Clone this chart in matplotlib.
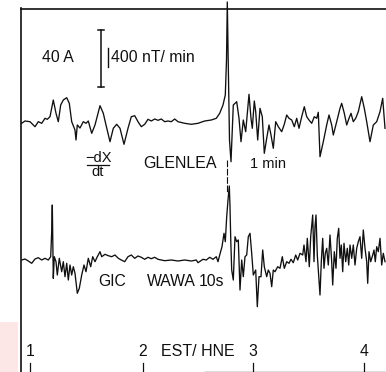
import matplotlib
matplotlib.use("Agg")
import matplotlib.pyplot as plt
import numpy as np

plt.rcParams["font.family"] = ["Liberation Sans", "DejaVu Sans"]

# 기준 그림에서 읽은 값 (x: 시간축 위치, y: 화면 세로 위치, 위가 작음)
glenlea_x = [21.7, 25, 30, 35, 38.3, 41.7, 45, 47.3, 50, 53.3, 56, 58.3, 60.7, 63.3, 66.7, 69.3,
             71.7, 75, 76, 77.3, 80, 83.3, 86, 88.3, 91.7, 95, 100, 103.3, 106, 110, 113.3, 116.7,
             120, 124, 128, 131.3, 134.7, 138, 141.3, 144.7, 148, 151.3, 154.7, 158, 161.3, 164.7,
             168, 171.3, 174.7, 178, 184.7, 191.3, 198, 204.7, 211.3, 216.3, 219.7, 223, 225.3,
             226.5, 227.3, 228.2, 229.5, 231, 233.3, 236.7, 239, 241, 243.3, 245.7, 249, 251, 252.3,
             254.3, 255.7, 257.7, 260, 262.3, 264.3, 266.7, 269, 271, 273.3, 275.7, 278.3, 281.7,
             284.3, 286.7, 289, 291.7, 294.3, 296.7, 299, 301.7, 304.3, 306.7, 309, 311.7, 314.3,
             316.7, 318.3, 320, 323.3, 326.7, 329, 331.7, 333.3, 336.7, 340, 341.7, 344.3, 346.7,
             349, 351, 353.3, 355.7, 358.3, 361.7, 364.3, 366.7, 370, 373.3, 376.7, 380, 382.7, 385]
glenlea_y = [123.3, 121, 121.7, 126.7, 121.7, 123.3, 118.3, 119.3, 116.7, 100, 113.3, 121.7, 105,
             100, 97.7, 103.3, 121.7, 130, 140, 125, 128, 121.7, 123.3, 121, 133.3, 125, 105.7,
             113.3, 125, 141.7, 128.3, 124.3, 128.3, 144.3, 128.3, 116.7, 115.7, 121.7, 126.7,
             124.3, 119.3, 121, 119, 120.3, 119, 121.7, 121, 121.7, 119, 121.7, 123.3, 124.3,
             123.3, 121, 120, 118.3, 113.3, 105, 95, 60, 2, 60, 140, 161.7, 105, 101.7, 118.3,
             141.7, 120, 131.7, 94.3, 118.3, 128.3, 101, 111.7, 140, 108.3, 116.7, 153.3, 138.3,
             125, 135, 148.3, 121.7, 126.7, 131.7, 124.3, 115, 118.3, 120, 126.7, 118.3, 128.3,
             116.7, 106.7, 116.7, 120, 123.3, 116.7, 118.3, 112.3, 156.7, 141.7, 125, 115, 125,
             135, 121.7, 108.3, 103.3, 113.3, 125, 118.3, 113.3, 121.7, 118.3, 111.7, 96.7, 108.3,
             121.7, 141.7, 125, 121.7, 111.7, 98.3, 128.3]

wawa_x = [21.7, 25, 28.3, 31.7, 35, 38.3, 41.7, 45, 48.3, 50.7, 51.7, 52.3, 53.3, 54.3, 56, 57.3,
          59.3, 61.7, 63.3, 65, 66.7, 68.3, 70, 71.7, 73.3, 75, 77.3, 79.3, 81.7, 84, 86, 88.3,
          90.7, 92.7, 95, 97.3, 100, 101.7, 105, 108.3, 111.7, 115, 118.3, 121.3, 124.7, 128,
          131.3, 134.7, 138, 141.3, 144.7, 148, 151.3, 154.7, 158, 164.7, 171.3, 178, 184.7,
          191.3, 196.3, 198, 203, 206.3, 209.7, 213, 216.3, 218, 219.7, 222, 224, 225.3, 226.7,
          228, 229.3, 230, 230.8, 231.7, 233.3, 235, 236.7, 238.3, 240, 241.7, 243.3, 245, 246.7,
          248.3, 250, 251.7, 253.3, 255.7, 257.3, 259, 261, 262.7, 264.3, 266.7, 268.3, 270,
          271.7, 273.3, 275, 277.7, 280, 282.3, 284.3, 286.7, 289, 291, 293.3, 295.7, 297.7, 300,
          302.7, 304, 306, 307.3, 309.3, 310.7, 312.7, 314, 315, 316, 317.3, 318.7, 320, 321.3,
          322.7, 324, 325.3, 326.7, 328.3, 330, 331.7, 332.7, 334.3, 336, 337.3, 338.7, 340,
          341.3, 342.7, 344, 345.7, 347.3, 348.7, 350, 351.7, 353.3, 355, 356.7, 358.3, 360,
          361.7, 363.3, 365, 366.7, 367.7, 369, 370.7, 372.7, 374, 375.3, 376.7, 378.3, 380,
          381.7, 383.3, 385]
wawa_y = [260, 259, 261, 263.3, 259, 257.7, 260, 258.3, 260, 256.7, 231.7, 205, 278.3, 256.7,
          261.7, 275, 258.3, 271.7, 261.7, 276.7, 263.3, 280, 265, 275, 266.7, 273.3, 293.3,
          288.3, 275, 265, 271.7, 258.3, 266.7, 256.7, 261.7, 256.7, 251.7, 256.7, 254.3, 255.7,
          256.7, 255, 258.3, 260, 261.7, 256.7, 255, 258.3, 256, 257.3, 259.3, 257.3, 258.7,
          257.3, 259.3, 260.7, 260, 261, 260, 261, 260, 262.7, 259.3, 260, 257.3, 259.3, 256.7,
          261.7, 255, 246.7, 233.3, 241.7, 216.7, 200, 186, 206.7, 241.7, 270, 280, 236.7, 241.7,
          240, 290, 260, 276.7, 256.7, 255, 236.7, 233.3, 253.3, 275, 270, 306.7, 276.7, 276.7,
          250, 266.7, 276.7, 270, 273.3, 286.7, 270, 271.7, 266.7, 268.3, 256.7, 268.3, 261.7,
          263.3, 259.3, 262.7, 255, 260, 253.3, 255, 245, 261.7, 238.3, 266.7, 236.7, 215, 261.7,
          226.7, 215, 255, 275, 295, 261.7, 238.3, 268.3, 253.3, 248.3, 265, 235, 261.7, 285,
          251.7, 268.3, 238.3, 228.3, 258.3, 245, 271.7, 243.3, 261.7, 248.3, 265, 245, 258.3,
          245, 265, 248.3, 241.7, 236.7, 258.3, 230, 248.3, 261.7, 283.3, 251.7, 261.7, 255, 250,
          261.7, 246.7, 251.7, 238.3, 265, 253.3, 261.7]

tick_pos = [30, 143, 253, 364]
tick_labels = ["1", "2", "3", "4"]

fig = plt.figure(figsize=(3.86, 3.72), dpi=100)
ax = fig.add_axes([0, 0, 1, 1])
ax.set_xlim(0, 386)
ax.set_ylim(372, 0)
ax.axis("off")

ink = "#101010"

# 스캔 가장자리의 분홍 얼룩
ax.add_patch(plt.Rectangle((0, 322), 18, 50, color="#fce6e6", lw=0, zorder=0))

# 테두리
ax.plot([21, 21], [8, 372], color=ink, lw=1.2)
ax.plot([21, 386], [8.5, 8.5], color=ink, lw=1.2)
ax.plot([205, 386], [371.5, 371.5], color="#555555", lw=1.0)

ax.plot(glenlea_x, glenlea_y, color=ink, lw=0.95, solid_joinstyle="round")
ax.plot(wawa_x, wawa_y, color=ink, lw=0.95, solid_joinstyle="round")

# 1분 표시선
ax.plot([227.3, 227.3], [160, 192], color=ink, lw=0.8, ls=(0, (6, 1.5)))

# 스케일 바
ax.plot([101, 101], [30, 87], color=ink, lw=1.1)
ax.plot([98, 104], [30, 30], color=ink, lw=1.1)
ax.plot([98, 104], [87, 87], color=ink, lw=1.1)
ax.plot([108.3, 108.3], [48, 67], color=ink, lw=1.0)
ax.text(42, 58, "40 A", fontsize=11.3, va="center", ha="left", color=ink)
ax.text(111, 58, "400 nT/ min", fontsize=11.3, va="center", ha="left", color=ink)

# 라벨
ax.text(98, 158, "\u2212dX", fontsize=10.5, va="center", ha="center", color=ink)
ax.plot([87, 109], [165, 165], color=ink, lw=0.9)
ax.text(98, 172.5, "dt", fontsize=10.5, va="center", ha="center", color=ink)
ax.text(143, 164, "GLENLEA", fontsize=11.5, va="center", ha="left", color=ink)
ax.text(250, 164, "1 min", fontsize=10.5, va="center", ha="left", color=ink)

ax.text(112.5, 281, "GIC", fontsize=11.3, va="center", ha="center", color=ink)
ax.text(171, 281, "WAWA", fontsize=11.3, va="center", ha="center", color=ink)
ax.text(211, 281, "10s", fontsize=11.3, va="center", ha="center", color=ink)

# 시간축
for xp, lab in zip(tick_pos, tick_labels):
    ax.plot([xp, xp], [363, 372], color=ink, lw=0.9)
    ax.text(xp, 352, lab, fontsize=11.3, va="center", ha="center", color=ink)
ax.text(198, 352, "EST/ HNE", fontsize=11.5, va="center", ha="center", color=ink)

fig.savefig("out.png", dpi=100)
